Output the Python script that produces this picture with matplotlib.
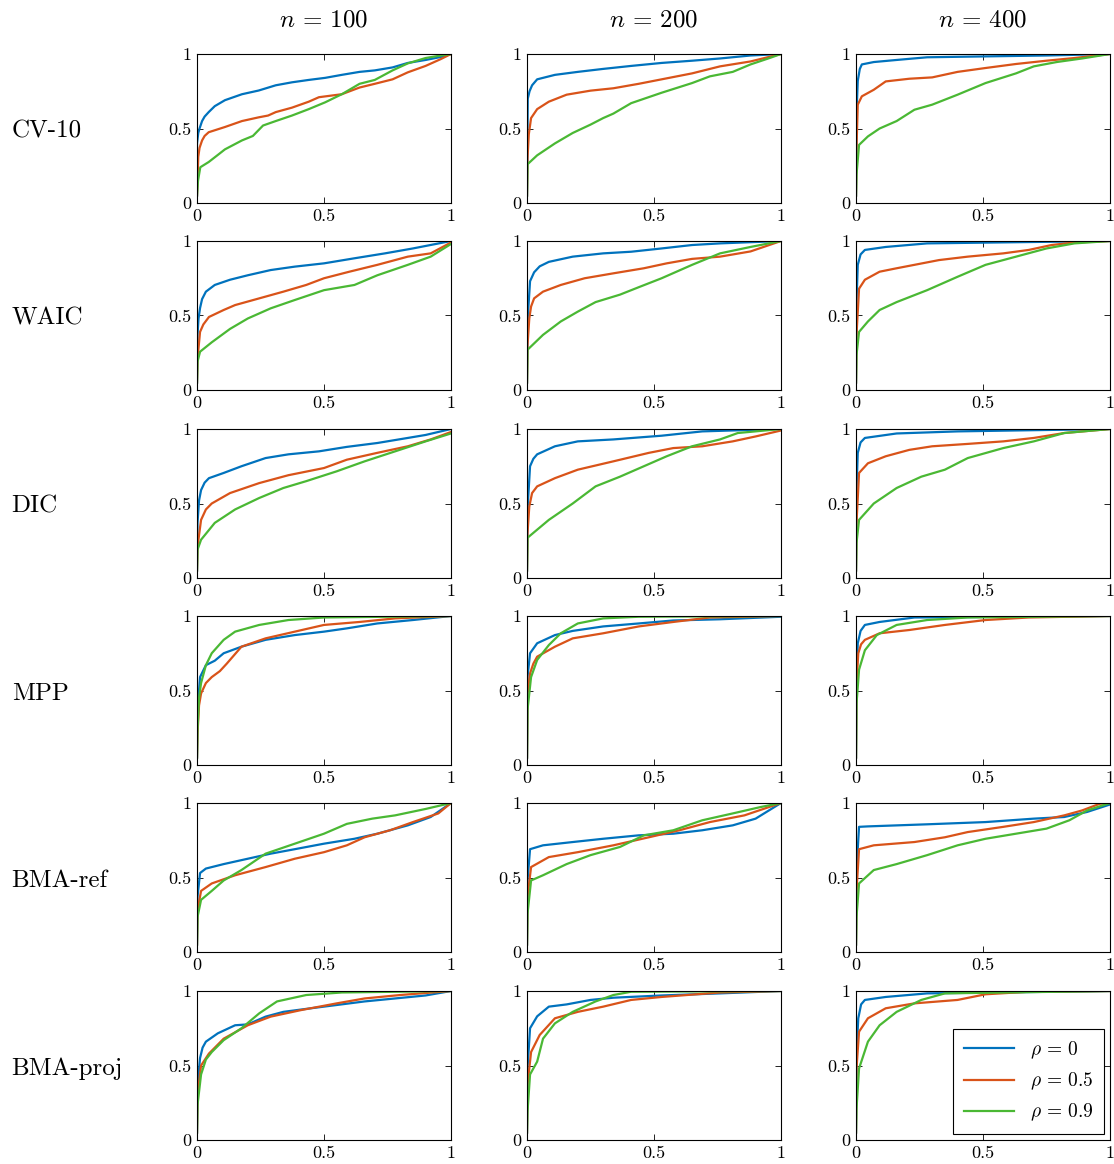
"""
ROC-like curves for the model selection methods, grid of 6 x 3 panels.
"""

import matplotlib.pyplot as plt

plt.rcParams['font.family'] = 'cmr10'
plt.rcParams['mathtext.fontset'] = 'cm'
plt.rcParams['axes.unicode_minus'] = False

sample_sizes = [100, 200, 400]
methods = ['CV-10', 'WAIC', 'DIC', 'MPP', 'BMA-ref', 'BMA-proj']
rho_labels = [r'$\rho\,=\,0$', r'$\rho\,=\,0.5$', r'$\rho\,=\,0.9$']
colors = ['#0072BD', '#D95319', '#4AB834']

# each entry: n -> [rho=0, rho=0.5, rho=0.9], curves as (x, y) points
cv10 = {
    100: [
        [(0, .05), (0, .4), (.005, .47), (.01, .5), (.02, .55), (.03, .58), (.046, .61),
         (.07, .65), (.11, .69), (.177, .73), (.243, .755),
         (.31, .79), (.374, .81), (.44, .826), (.505, .84), (.57, .86), (.64, .88),
         (.70, .89), (.77, .91), (.83, .94), (.9, .96), (.96, .98), (1, 1)],
        [(0, .05), (.005, .31), (.01, .37), (.02, .42), (.03, .45), (.046, .475),
         (.11, .51), (.177, .55),
         (.243, .575), (.28, .587), (.31, .61), (.374, .64), (.44, .68), (.48, .71),
         (.57, .73), (.64, .775), (.70, .80), (.77, .83), (.83, .877), (.9, .92),
         (.96, .966), (1, 1)],
        [(0, .05), (.004, .15), (.013, .24), (.046, .275), (.08, .32), (.11, .36),
         (.177, .42), (.22, .45), (.26, .52), (.31, .55), (.374, .587), (.44, .63),
         (.505, .676), (.57, .73), (.64, .80), (.70, .826), (.77, .89), (.83, .937),
         (.9, .973), (.96, .99), (1, 1)],
    ],
    200: [
        [(0, .05), (.003, .7), (.01, .75), (.02, .79), (.04, .83), (.11, .86), (.2, .88),
         (.3, .90), (.41, .92), (.53, .94), (.65, .955), (.76, .97), (.88, .99), (1, 1)],
        [(0, .05), (.002, .3), (.007, .46), (.016, .57), (.04, .63), (.086, .68),
         (.156, .727), (.25, .754), (.34, .77), (.44, .80), (.53, .83), (.65, .87),
         (.76, .917), (.88, .95), (1, 1)],
        [(0, .05), (.002, .26), (.04, .32), (.11, .40), (.18, .47), (.25, .526), (.3, .57),
         (.34, .60), (.41, .67), (.53, .74), (.65, .805), (.72, .85), (.81, .88),
         (.88, .93), (.95, .97), (1, 1)],
    ],
    400: [
        [(0, .05), (.002, .6), (.007, .82), (.015, .9), (.023, .93), (.07, .946),
         (.16, .96), (.28, .978), (.51, .984), (.75, .99), (1, 1)],
        [(0, .05), (.002, .37), (.007, .66), (.023, .716), (.07, .76), (.117, .816),
         (.21, .834), (.30, .843), (.40, .88), (.51, .906), (.63, .933), (.75, .955),
         (.86, .973), (1, 1)],
        [(0, .05), (.002, .19), (.012, .39), (.047, .447), (.093, .50), (.16, .55),
         (.23, .626), (.30, .66), (.40, .727), (.51, .805), (.63, .87), (.70, .917),
         (.79, .946), (.89, .97), (1, 1)],
    ],
}

waic = {
    100: [
        [(0, .05), (.002, .37), (.006, .48), (.012, .55), (.02, .61), (.035, .66),
         (.07, .705), (.13, .74), (.2, .77), (.29, .805), (.385, .828), (.5, .85),
         (.62, .884), (.74, .917), (.85, .95), (1, 1)],
        [(0, .05), (.002, .21), (.012, .39), (.025, .44), (.047, .49), (.105, .537),
         (.15, .57), (.245, .615), (.34, .66), (.43, .705), (.5, .75), (.6, .794),
         (.71, .84), (.83, .895), (.92, .917), (1, .99)],
        [(0, .05), (.002, .19), (.012, .257), (.058, .32), (.13, .41), (.2, .48),
         (.29, .548), (.385, .604), (.5, .67), (.62, .705), (.71, .77), (.83, .84),
         (.92, .895), (1, .98)],
    ],
    200: [
        [(0, .05), (.002, .46), (.012, .73), (.028, .79), (.05, .83), (.086, .86),
         (.18, .895), (.30, .917), (.41, .928), (.53, .95), (.65, .973), (.76, .984),
         (1, 1)],
        [(0, .05), (.002, .3), (.009, .48), (.016, .56), (.028, .615), (.063, .66),
         (.133, .705), (.227, .75), (.34, .783), (.46, .817), (.55, .85), (.65, .88),
         (.76, .895), (.88, .93), (1, 1)],
        [(0, .05), (.002, .27), (.063, .37), (.133, .46), (.2, .526), (.27, .59),
         (.366, .64), (.44, .69), (.53, .75), (.65, .84), (.76, .917), (.88, .96),
         (1, 1)],
    ],
    400: [
        [(0, .05), (.002, .59), (.007, .84), (.018, .91), (.035, .94), (.117, .96),
         (.28, .984), (1, 1)],
        [(0, .05), (.002, .37), (.012, .68), (.035, .74), (.093, .794), (.16, .817),
         (.23, .84), (.327, .872), (.44, .895), (.58, .917), (.68, .94), (.77, .973),
         (.86, .99), (1, 1)],
        [(0, .05), (.002, .235), (.012, .39), (.047, .46), (.093, .537), (.16, .59),
         (.28, .67), (.40, .76), (.51, .84), (.63, .895), (.75, .95), (.86, .984),
         (1, 1)],
    ],
}

dic = {
    100: [
        [(0, .05), (.002, .37), (.008, .52), (.016, .59), (.03, .64), (.047, .67),
         (.105, .705), (.175, .75), (.27, .805), (.36, .83), (.48, .85), (.59, .88),
         (.71, .906), (.83, .94), (.90, .96), (1, 1)],
        [(0, .05), (.002, .21), (.016, .39), (.035, .46), (.058, .50), (.13, .57),
         (.245, .637), (.36, .69), (.50, .738), (.59, .794), (.71, .84), (.83, .884),
         (.92, .93), (1, .98)],
        [(0, .05), (.002, .19), (.016, .257), (.07, .37), (.15, .46), (.245, .537),
         (.34, .604), (.43, .65), (.55, .716), (.66, .783), (.78, .85), (.90, .917),
         (1, .97)],
    ],
    200: [
        [(0, .05), (.002, .46), (.012, .75), (.025, .8), (.04, .83), (.11, .884),
         (.2, .917), (.34, .93), (.53, .955), (.69, .984), (1, 1)],
        [(0, .05), (.002, .3), (.009, .48), (.02, .57), (.04, .615), (.11, .67),
         (.2, .727), (.34, .783), (.48, .84), (.576, .872), (.69, .884), (.81, .917),
         (.90, .95), (1, .99)],
        [(0, .05), (.002, .27), (.086, .39), (.18, .50), (.27, .615), (.366, .68),
         (.46, .75), (.55, .817), (.65, .884), (.76, .93), (.83, .973), (1, 1)],
    ],
    400: [
        [(0, .05), (.002, .59), (.007, .84), (.018, .91), (.035, .94), (.16, .97),
         (.40, .984), (1, 1)],
        [(0, .05), (.002, .37), (.012, .705), (.047, .77), (.117, .817), (.21, .86),
         (.30, .884), (.44, .90), (.58, .917), (.70, .94), (.82, .973), (1, 1)],
        [(0, .05), (.002, .235), (.012, .39), (.07, .50), (.16, .604), (.257, .68),
         (.35, .727), (.44, .805), (.58, .872), (.70, .917), (.82, .973), (1, 1)],
    ],
}

mpp = {
    100: [
        [(0, .05), (.002, .37), (.012, .59), (.035, .67), (.07, .7), (.105, .75),
         (.175, .794), (.27, .84), (.385, .872), (.50, .895), (.59, .917), (.71, .95),
         (.85, .973), (1, 1)],
        [(0, .05), (.002, .21), (.008, .4), (.016, .48), (.035, .55), (.058, .59),
         (.09, .63), (.117, .68), (.175, .794), (.27, .85), (.385, .895), (.50, .94),
         (.64, .96), (.78, .984), (1, 1)],
        [(0, .05), (.002, .235), (.008, .45), (.016, .55), (.035, .67), (.058, .75),
         (.105, .84), (.15, .895), (.245, .94), (.36, .973), (.50, .99), (1, 1)],
    ],
    200: [
        [(0, .05), (.002, .59), (.012, .75), (.04, .817), (.11, .872), (.18, .90),
         (.30, .93), (.44, .95), (.576, .97), (.76, .978), (1, .995)],
        [(0, .05), (.002, .48), (.012, .615), (.025, .68), (.04, .727), (.11, .794),
         (.18, .85), (.30, .884), (.44, .93), (.576, .96), (.72, .99), (1, 1)],
        [(0, .05), (.002, .37), (.016, .59), (.04, .705), (.086, .805), (.133, .884),
         (.2, .95), (.30, .984), (.44, .995), (1, 1)],
    ],
    400: [
        [(0, .05), (.002, .59), (.007, .817), (.018, .9), (.035, .94), (.093, .96),
         (.23, .99), (1, 1)],
        [(0, .05), (.002, .55), (.009, .75), (.02, .81), (.035, .84), (.093, .884),
         (.21, .906), (.35, .94), (.51, .973), (.68, .99), (1, 1)],
        [(0, .05), (.002, .41), (.012, .64), (.035, .77), (.082, .872), (.16, .94),
         (.28, .973), (.44, .99), (1, 1)],
    ],
}

bma_ref = {
    100: [
        [(0, .05), (.002, .37), (.012, .53), (.035, .56), (.105, .59), (.2, .626),
         (.29, .66), (.385, .69), (.50, .727), (.62, .76), (.71, .794), (.83, .85),
         (.92, .906), (1, 1)],
        [(0, .05), (.002, .28), (.016, .41), (.058, .46), (.15, .515), (.27, .57),
         (.385, .626), (.50, .67), (.59, .716), (.66, .77), (.76, .817), (.85, .872),
         (.95, .93), (1, 1)],
        [(0, .05), (.002, .235), (.016, .35), (.058, .41), (.105, .48), (.175, .55),
         (.27, .66), (.385, .727), (.50, .794), (.59, .86), (.69, .895), (.78, .917),
         (.90, .96), (1, 1)],
    ],
    200: [
        [(0, .05), (.002, .48), (.012, .69), (.063, .716), (.18, .738), (.30, .76),
         (.44, .783), (.576, .794), (.69, .817), (.81, .85), (.90, .895), (1, 1)],
        [(0, .05), (.002, .37), (.016, .57), (.086, .637), (.2, .67), (.34, .716),
         (.48, .77), (.60, .817), (.72, .872), (.856, .917), (1, 1)],
        [(0, .05), (.002, .257), (.016, .48), (.063, .515), (.156, .59), (.25, .65),
         (.366, .705), (.46, .783), (.576, .817), (.69, .884), (.81, .93), (.92, .973),
         (1, 1)],
    ],
    400: [
        [(0, .05), (.002, .55), (.012, .84), (.047, .843), (.28, .857), (.51, .872),
         (.70, .895), (.82, .906), (.91, .94), (1, .99)],
        [(0, .05), (.002, .41), (.012, .69), (.07, .716), (.23, .738), (.35, .77),
         (.44, .805), (.58, .84), (.70, .872), (.82, .917), (.89, .95), (.96, .995),
         (1, 1)],
        [(0, .05), (.002, .235), (.012, .46), (.07, .55), (.16, .59), (.28, .65),
         (.40, .716), (.51, .76), (.63, .794), (.75, .828), (.84, .884), (.91, .95),
         (1, 1)],
    ],
}

bma_proj = {
    100: [
        [(0, .05), (.002, .37), (.012, .55), (.022, .62), (.035, .66), (.082, .716),
         (.15, .77), (.2, .776), (.27, .828), (.34, .86), (.43, .88), (.55, .906),
         (.66, .93), (.78, .95), (.90, .97), (1, 1)],
        [(0, .05), (.002, .3), (.016, .5), (.047, .58), (.105, .68), (.2, .77),
         (.29, .828), (.41, .872), (.55, .917), (.66, .95), (.80, .973), (1, 1)],
        [(0, .05), (.002, .235), (.016, .44), (.035, .54), (.058, .59), (.105, .67),
         (.175, .75), (.245, .85), (.315, .93), (.43, .973), (.57, .99), (1, 1)],
    ],
    200: [
        [(0, .05), (.002, .48), (.012, .75), (.04, .83), (.086, .895), (.156, .91),
         (.25, .94), (.34, .955), (.53, .97), (.76, .984), (1, 1)],
        [(0, .05), (.002, .37), (.016, .59), (.05, .705), (.11, .817), (.2, .86),
         (.30, .895), (.41, .94), (.53, .96), (.76, .99), (1, 1)],
        [(0, .05), (.002, .19), (.012, .44), (.04, .526), (.063, .68), (.11, .783),
         (.18, .86), (.27, .93), (.34, .973), (.41, .995), (1, 1)],
    ],
    400: [
        [(0, .05), (.002, .59), (.009, .817), (.02, .91), (.035, .94), (.117, .96),
         (.28, .984), (1, 1)],
        [(0, .05), (.002, .48), (.012, .727), (.047, .817), (.117, .884), (.23, .917),
         (.40, .94), (.51, .978), (.68, .995), (1, 1)],
        [(0, .05), (.002, .21), (.012, .48), (.047, .66), (.093, .77), (.16, .86),
         (.257, .94), (.35, .984), (1, 1)],
    ],
}

results = [cv10, waic, dic, mpp, bma_ref, bma_proj]


def place_axes(fig, row, col):
    """Axes box in pixels of the original figure."""
    W, H = 1114, 1164
    lefts = [197, 527, 856]
    tops = [54, 241, 429, 616, 803, 991]
    w, h = 254, 149
    return fig.add_axes([lefts[col] / W, 1 - (tops[row] + h) / H, w / W, h / H])


fig = plt.figure(figsize=(11.14, 11.64), dpi=100)

for i, method in enumerate(methods):
    for j, n in enumerate(sample_sizes):
        ax = place_axes(fig, i, j)
        for k, curve in enumerate(results[i][n]):
            xs = [p[0] for p in curve]
            ys = [p[1] for p in curve]
            ax.plot(xs, ys, color=colors[k], linewidth=1.6, label=rho_labels[k])

        ax.set_xlim(0, 1)
        ax.set_ylim(0, 1)
        ax.set_xticks([0, 0.5, 1])
        ax.set_yticks([0, 0.5, 1])
        ax.set_xticklabels(['0', '0.5', '1'])
        ax.set_yticklabels(['0', '0.5', '1'])
        ax.tick_params(direction='in', top=True, right=True, length=4,
                       width=0.6, labelsize=13, pad=4)
        for spine in ax.spines.values():
            spine.set_linewidth(0.8)

        if i == 0:
            ax.set_title(rf'$n\,=\,{n}$', fontsize=18, pad=20)
        if j == 0:
            ax.text(-0.73, 0.48, method, transform=ax.transAxes, fontsize=18,
                    ha='left', va='center')
        if i == len(methods) - 1 and j == 2:
            leg = ax.legend(loc='lower right', fontsize=14, frameon=True,
                            fancybox=False, edgecolor='black', framealpha=1,
                            handlelength=2.6, borderpad=0.55, labelspacing=0.5,
                            borderaxespad=0.3)
            leg.get_frame().set_linewidth(0.8)

plt.savefig('out.png', dpi=100)
